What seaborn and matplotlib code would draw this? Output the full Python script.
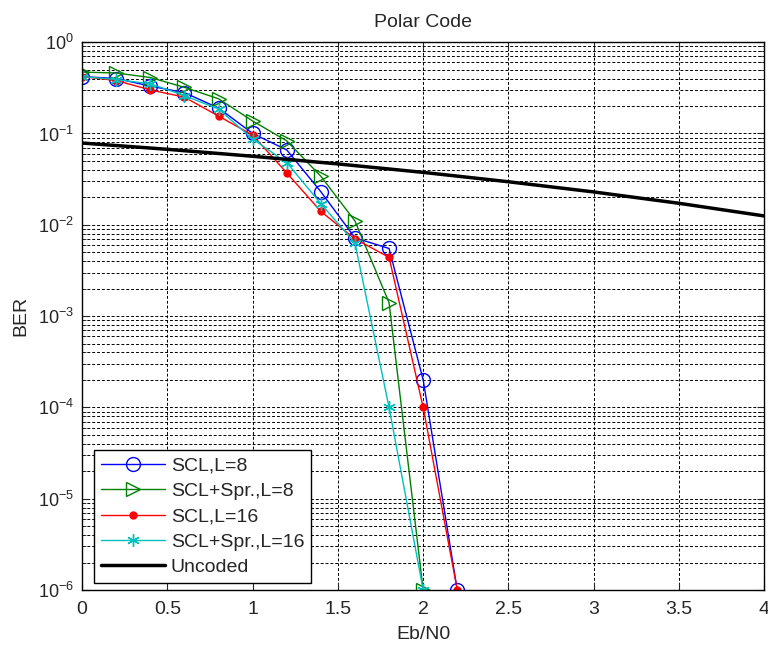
import numpy as np
import pandas as pd
import matplotlib
matplotlib.use("Agg")
import matplotlib.pyplot as plt
import seaborn as sns
from matplotlib.ticker import LogLocator, NullFormatter

# ── Data ─────────────────────────────────────────────────
ebn0 = [0.0, 0.2, 0.4, 0.6, 0.8, 1.0, 1.2, 1.4, 1.6, 1.8, 2.0, 2.2]

scl_l8 = [0.42, 0.40, 0.33, 0.28, 0.19, 0.10, 0.066, 0.023, 0.0072, 0.0055, 2e-4, 1e-6]
scl_l16 = [0.42, 0.38, 0.30, 0.25, 0.155, 0.096, 0.037, 0.014, 0.0070, 0.0044, 1e-4, 1e-6]

ebn0_spr = [0.0, 0.2, 0.4, 0.6, 0.8, 1.0, 1.2, 1.4, 1.6, 1.8, 2.0]
spr_l8 = [0.47, 0.46, 0.41, 0.32, 0.24, 0.137, 0.083, 0.034, 0.011, 0.0014, 1e-6]
spr_l16 = [0.42, 0.39, 0.35, 0.26, 0.185, 0.087, 0.048, 0.017, 0.0063, 1e-4, 1e-6]

ebn0_unc = [0.0, 0.5, 1.0, 1.5, 2.0, 2.5, 3.0, 3.5, 4.0]
uncoded = [0.0786, 0.0671, 0.0563, 0.0464, 0.0375, 0.0296, 0.0229, 0.0172, 0.0125]

x_ticks = ["0", "0.5", "1", "1.5", "2", "2.5", "3", "3.5", "4"]

sns.set_style("ticks")
plt.rcParams["font.family"] = ["Liberation Sans", "DejaVu Sans"]
plt.rcParams["mathtext.fontset"] = "custom"
plt.rcParams["mathtext.rm"] = "Liberation Sans"
plt.rcParams["mathtext.it"] = "Liberation Sans"

fig = plt.figure(figsize=(7.68, 6.46), dpi=100)
# axes box: x 82..764 px, y 42..590 px
ax = fig.add_axes([0.107, 0.0867, 0.888, 0.848])

series = [
    ("SCL,L=8", ebn0, scl_l8, "blue", "o", 10, "none"),
    ("SCL+Spr.,L=8", ebn0_spr, spr_l8, "green", ">", 10, "none"),
    ("SCL,L=16", ebn0, scl_l16, "red", ".", 10, "red"),
    ("SCL+Spr.,L=16", ebn0_spr, spr_l16, "c", (6, 2, 0), 9, "c"),
]
for name, xs, ys, col, mk, ms, fc in series:
    sns.lineplot(x=xs, y=ys, ax=ax, color=col, marker=mk, markersize=ms,
                 mfc=fc, mec=col, mew=1.0, lw=1.0, label=name)

sns.lineplot(x=ebn0_unc, y=uncoded, ax=ax, color="black", lw=2.5,
             label="Uncoded")

ax.set_yscale("log")
ax.set_xlim(0, 4)
ax.set_ylim(1e-6, 1)
ax.set_xticks(np.arange(0, 4.01, 0.5))
ax.set_xticklabels(x_ticks)
ax.yaxis.set_major_locator(LogLocator(base=10, numticks=10))
ax.yaxis.set_minor_locator(LogLocator(base=10, subs=np.arange(2, 10), numticks=100))
ax.yaxis.set_minor_formatter(NullFormatter())

grid_kw = dict(color="black", ls=(0, (3, 2)), lw=0.7)
ax.grid(True, which="major", **grid_kw)
ax.grid(True, which="minor", axis="y", **grid_kw)
ax.tick_params(direction="in", which="both", top=True, right=True, length=5)
ax.tick_params(axis="x", labelsize=14, pad=8)
ax.tick_params(axis="y", labelsize=13, pad=6)
ax.tick_params(which="minor", length=3)
for sp in ax.spines.values():
    sp.set_color("black")
    sp.set_linewidth(1.0)

ax.set_title("Polar Code", fontsize=14, pad=11)
ax.set_xlabel("Eb/N0", fontsize=14, labelpad=6)
ax.set_ylabel("BER", fontsize=14, labelpad=6)

leg = ax.legend(loc="lower left", bbox_to_anchor=(0.0176, 0.0128),
                borderaxespad=0, fontsize=14, handlelength=3.3,
                fancybox=False, framealpha=1, edgecolor="black",
                labelspacing=0.4, borderpad=0.35, handletextpad=0.3)
leg.get_frame().set_linewidth(1.0)

fig.savefig("out.png", dpi=100)
